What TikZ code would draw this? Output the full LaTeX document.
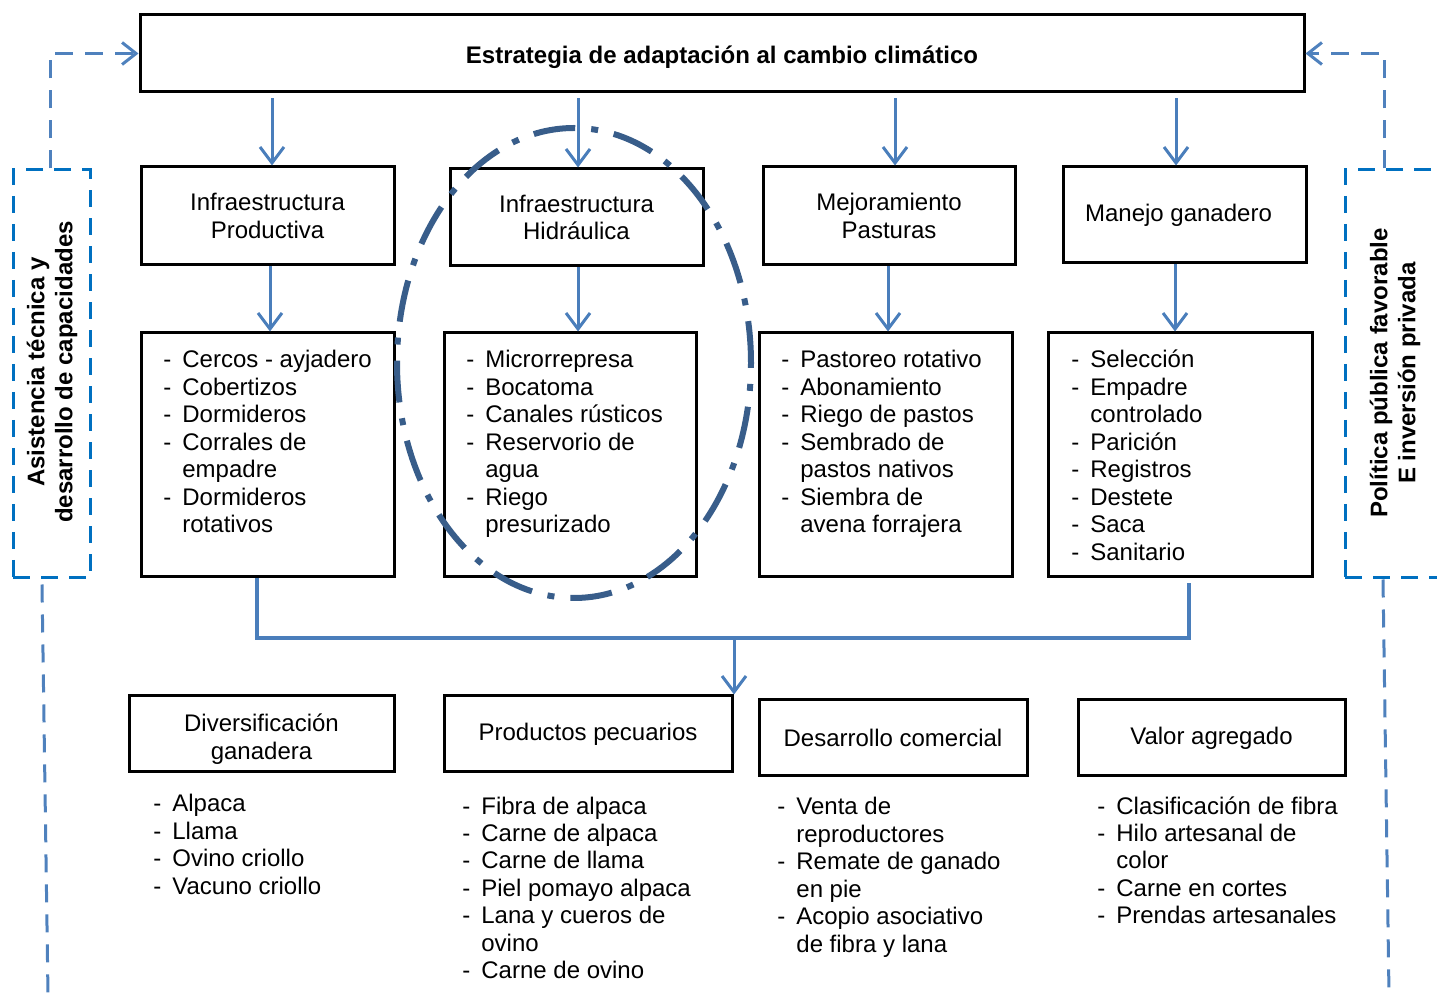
\documentclass[tikz,border=0pt]{standalone}
\usepackage{fontspec}
\setmainfont{Liberation Sans}
\usetikzlibrary{arrows.meta,calc}
\definecolor{arrblue}{HTML}{4A7EBB}
\definecolor{dashblue}{HTML}{4F81BD}
\definecolor{boxblue}{HTML}{0070C0}
\definecolor{ellblue}{HTML}{385D8A}
\newcommand\dd{\makebox[9.5pt][l]{-}}
\newcommand\ind{\hspace*{9.5pt}}
\begin{document}
\begin{tikzpicture}[x=0.5pt,y=-0.5pt,
  every node/.style={font=\fontsize{12}{13.75}\selectfont},
  box/.style={draw=black, line width=1.5pt, inner sep=0pt, align=center},
  list/.style={anchor=base west, inner sep=0pt},
  arr/.style={draw=arrblue, line width=1.5pt, -{Straight Barb[length=8pt,width=12pt]}},
  link/.style={draw=arrblue, line width=1.75pt},
  fb/.style={draw=dashblue, line width=1.5pt, dash pattern=on 9pt off 6pt},
  fbarr/.style={fb, -{Straight Barb[length=7pt,width=11pt]}},
  side/.style={draw=boxblue, line width=1.5pt, dash pattern=on 8.5pt off 5.5pt, inner sep=0pt},
  sidetext/.style={rotate=90, font=\bfseries\fontsize{12}{14}\selectfont, align=center, inner sep=0pt},
  ell/.style={draw=ellblue, line width=3pt, dash pattern=on 21pt off 8pt on 3.5pt off 8pt}
]
\useasboundingbox (0,0) rectangle (1437,994);

% top box
\node[box, minimum width=582pt, minimum height=38.5pt, font=\bfseries\fontsize{12}{13.75}\selectfont] (top) at (722,53.5) {\raisebox{-2pt}[\height][\depth]{Estrategia de adaptación al cambio climático}};

% side dashed boxes
\node[side, minimum width=38.5pt, minimum height=204pt] (lside) at (51.5,374) {};
\node[sidetext] (ltext) at (52,372) {Asistencia técnica y\\desarrollo de capacidades};
\node[side, minimum width=52.5pt, minimum height=204pt] (rside) at (1397.5,374) {};
\node[sidetext] (rtext) at (1395,373) {Política pública favorable\\E inversión privada};

% row 1
\node[box, minimum width=126.5pt, minimum height=49pt] (b1) at (267.5,216) {Infraestructura\\Productiva};
\node[box, minimum width=126.5pt, minimum height=48.5pt] (b2) at (576.5,217.5) {Infraestructura\\Hidráulica};
\node[box, minimum width=126pt, minimum height=49pt] (b3) at (889,216) {Mejoramiento\\Pasturas};
\node[box, minimum width=121.5pt, minimum height=48pt] (b4) at (1184.5,215) {\hspace*{-6pt}Manejo ganadero};

% row 2
\node[box, minimum width=126.5pt, minimum height=122pt] (c1) at (267.5,455) {};
\node[box, minimum width=126pt, minimum height=122pt] (c2) at (570,455) {};
\node[box, minimum width=126.5pt, minimum height=122pt] (c3) at (885.5,455) {};
\node[box, minimum width=132pt, minimum height=122pt] (c4) at (1180,455) {};

\node[list] (lc1) at (163,368) {\begin{tabular}[t]{@{}l@{}}\dd Cercos - ayjadero\\ \dd Cobertizos\\ \dd Dormideros\\ \dd Corrales de\\ \ind empadre\\ \dd Dormideros\\ \ind rotativos\end{tabular}};
\node[list] (lc2) at (466,368) {\begin{tabular}[t]{@{}l@{}}\dd Microrrepresa\\ \dd Bocatoma\\ \dd Canales rústicos\\ \dd Reservorio de\\ \ind agua\\ \dd Riego\\ \ind presurizado\end{tabular}};
\node[list] (lc3) at (781,368) {\begin{tabular}[t]{@{}l@{}}\dd Pastoreo rotativo\\ \dd Abonamiento\\ \dd Riego de pastos\\ \dd Sembrado de\\ \ind pastos nativos\\ \dd Siembra de\\ \ind avena forrajera\end{tabular}};
\node[list] (lc4) at (1071,368) {\begin{tabular}[t]{@{}l@{}}\dd Selección\\ \dd Empadre\\ \ind controlado\\ \dd Parición\\ \dd Registros\\ \dd Destete\\ \dd Saca\\ \dd Sanitario\end{tabular}};

% row 3
\node[box, minimum width=132.5pt, minimum height=38pt] (d1) at (261.5,734) {\raisebox{-3pt}[\height][\depth]{\begin{tabular}{@{}c@{}}Diversificación\\ganadera\end{tabular}}};
\node[box, minimum width=144pt, minimum height=38pt] (d2) at (588,734) {Productos pecuarios};
\node[box, minimum width=134pt, minimum height=38pt] (d3) at (893,738) {Desarrollo comercial};
\node[box, minimum width=133.5pt, minimum height=38pt] (d4) at (1211.5,738) {Valor agregado};

\node[list] (ld1) at (153,812) {\begin{tabular}[t]{@{}l@{}}\dd Alpaca\\ \dd Llama\\ \dd Ovino criollo\\ \dd Vacuno criollo\end{tabular}};
\node[list] (ld2) at (462,814) {\begin{tabular}[t]{@{}l@{}}\dd Fibra de alpaca\\ \dd Carne de alpaca\\ \dd Carne de llama\\ \dd Piel pomayo alpaca\\ \dd Lana y cueros de\\ \ind ovino\\ \dd Carne de ovino\end{tabular}};
\node[list] (ld3) at (777,815) {\begin{tabular}[t]{@{}l@{}}\dd Venta de\\ \ind reproductores\\ \dd Remate de ganado\\ \ind en pie\\ \dd Acopio asociativo\\ \ind de fibra y lana\end{tabular}};
\node[list] (ld4) at (1097,814) {\begin{tabular}[t]{@{}l@{}}\dd Clasificación de fibra\\ \dd Hilo artesanal de\\ \ind color\\ \dd Carne en cortes\\ \dd Prendas artesanales\end{tabular}};

% arrows from top box
\draw[arr] ($(top.south -| b1.north)+(4.5,5)$) -- ($(b1.north)+(4.5,0)$);
\draw[arr] ($(top.south -| b2.north)+(1.5,5)$) -- ($(b2.north)+(1.5,0)$);
\draw[arr] ($(top.south -| b3.north)+(6,5)$) -- ($(b3.north)+(6,0)$);
\draw[arr] ($(top.south -| b4.north)+(-8.5,5)$) -- ($(b4.north)+(-8.5,0)$);

% arrows row1 -> row2
\draw[arr] ($(b1.south)+(2.5,0)$) -- ($(b1.south |- c1.north)+(2.5,0)$);
\draw[arr] ($(b2.south)+(1.5,0)$) -- ($(b2.south |- c2.north)+(1.5,0)$);
\draw[arr] ($(b3.south)+(-1,0)$) -- ($(b3.south |- c3.north)+(-1,0)$);
\draw[arr] ($(b4.south)+(-9.5,0)$) -- ($(b4.south |- c4.north)+(-9.5,0)$);

% collector
\coordinate (bus) at (734,638);
\draw[link] ($(c1.south)+(-10.5,0)$) |- (bus) -| ($(c4.south)+(9,5)$);
\draw[arr] (bus) -- (bus |- d2.north);

% feedback dashed arrows
\draw[fbarr] ($(lside.north)+(-1.5,0)$) |- (top.west);
\draw[fbarr] ($(rside.north)+(-13.5,0)$) |- (top.east);
\coordinate (lend) at (48,994);
\coordinate (rend) at (1389,994);
\draw[fb] ($(lside.south)+(-9.5,5)$) -- (lend);
\draw[fb] ($(rside.south)+(-14.5,0)$) -- (rend);

% ellipse
\draw[ell] (574,363) ellipse [x radius=88.5pt, y radius=117.5pt];
\end{tikzpicture}
\end{document}
